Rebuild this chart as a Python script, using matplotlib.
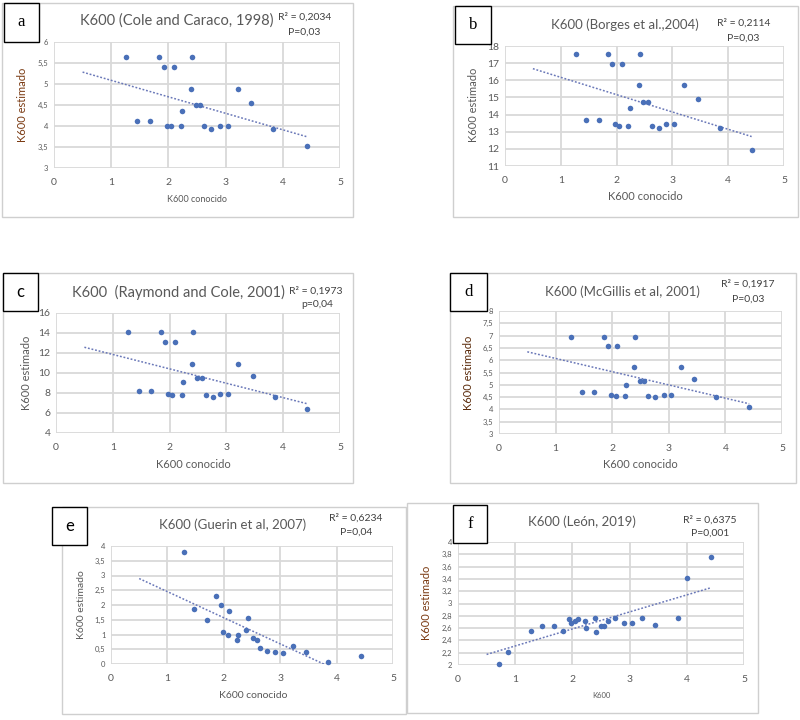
import numpy as np
import matplotlib
matplotlib.use("Agg")
import matplotlib.pyplot as plt
from matplotlib.patches import Rectangle
from matplotlib.ticker import FuncFormatter

plt.rcParams['font.family'] = ['Lato', 'DejaVu Sans']

W, H = 800, 720

# K600 conocido (x) vs K600 estimado (y)
a_x = [1.26, 1.45, 1.67, 1.84, 1.93, 1.97, 2.05, 2.09, 2.22, 2.24, 2.39, 2.41, 2.49, 2.55, 2.63, 2.75, 2.90, 3.04, 3.21, 3.45, 3.83, 4.42]
a_y = [5.64, 4.13, 4.13, 5.64, 5.41, 4.01, 4.00, 5.41, 4.00, 4.36, 4.87, 5.64, 4.49, 4.49, 3.99, 3.94, 4.01, 4.01, 4.87, 4.55, 3.94, 3.52]

b_x = [1.27, 1.46, 1.68, 1.85, 1.91, 1.97, 2.05, 2.09, 2.21, 2.24, 2.40, 2.42, 2.48, 2.57, 2.64, 2.76, 2.89, 3.03, 3.20, 3.46, 3.85, 4.42]
b_y = [17.51, 13.71, 13.71, 17.51, 16.95, 13.44, 13.32, 16.95, 13.32, 14.37, 15.70, 17.51, 14.72, 14.72, 13.32, 13.22, 13.44, 13.44, 15.70, 14.90, 13.22, 11.92]

c_x = [1.26, 1.46, 1.67, 1.85, 1.92, 1.97, 2.05, 2.09, 2.21, 2.24, 2.39, 2.42, 2.48, 2.57, 2.64, 2.76, 2.89, 3.03, 3.20, 3.46, 3.86, 4.42]
c_y = [14.1, 8.23, 8.23, 14.1, 13.13, 7.93, 7.83, 13.13, 7.83, 9.13, 10.87, 14.1, 9.5, 9.5, 7.83, 7.63, 7.93, 7.93, 10.87, 9.7, 7.63, 6.37]

d_x = [1.27, 1.46, 1.68, 1.85, 1.93, 1.97, 2.06, 2.09, 2.22, 2.24, 2.39, 2.41, 2.49, 2.57, 2.63, 2.75, 2.91, 3.04, 3.21, 3.45, 3.84, 4.42]
d_y = [6.96, 4.70, 4.70, 6.96, 6.57, 4.58, 4.54, 6.57, 4.54, 5.0, 5.71, 6.96, 5.17, 5.17, 4.54, 4.50, 4.58, 4.58, 5.71, 5.25, 4.50, 4.08]

e_x = [1.30, 1.48, 1.70, 1.86, 1.95, 1.98, 2.07, 2.10, 2.24, 2.26, 2.40, 2.43, 2.51, 2.58, 2.65, 2.76, 2.91, 3.05, 3.22, 3.46, 3.85, 4.43]
e_y = [3.79, 1.88, 1.49, 2.29, 2.0, 1.07, 0.97, 1.78, 0.81, 1.0, 1.16, 1.56, 0.87, 0.81, 0.55, 0.45, 0.42, 0.36, 0.62, 0.39, 0.06, 0.26]

f_x = [0.72, 0.88, 1.27, 1.46, 1.67, 1.84, 1.94, 1.97, 2.04, 2.09, 2.22, 2.24, 2.40, 2.41, 2.50, 2.56, 2.63, 2.75, 2.90, 3.05, 3.22, 3.45, 3.84, 4.00, 4.43]
f_y = [2.01, 2.21, 2.55, 2.63, 2.63, 2.55, 2.75, 2.68, 2.72, 2.75, 2.71, 2.60, 2.77, 2.54, 2.64, 2.64, 2.71, 2.76, 2.69, 2.69, 2.76, 2.65, 2.76, 3.41, 3.75]

letters = ['a', 'b', 'c', 'd', 'e', 'f']
titles = ['K600 (Cole and Caraco, 1998)', 'K600 (Borges et al.,2004)',
          'K600  (Raymond and Cole, 2001)', 'K600 (McGillis et al, 2001)',
          'K600 (Guerin et al, 2007)', 'K600 (León, 2019)']
r2_labels = ['R² = 0,2034', 'R² = 0,2114', 'R² = 0,1973', 'R² = 0,1917', 'R² = 0,6234', 'R² = 0,6375']
p_labels = ['P=0,03', 'P=0,03', 'p=0,04', 'P=0,03', 'P=0,04', 'P=0,001']
xlabels = ['K600 conocido'] * 5 + ['K600']
y_limits = [(3, 6), (11, 18), (4, 16), (3, 8), (0, 4), (2, 4)]
y_steps = [0.5, 1, 2, 0.5, 0.5, 0.2]
xs = [a_x, b_x, c_x, d_x, e_x, f_x]
ys = [a_y, b_y, c_y, d_y, e_y, f_y]

# layout in pixels: frame, letter box, plot area (left, top, right, bottom)
layout = [
    dict(frame=(2, 3, 353, 217), box=(4, 3, 39, 42), ax=(54, 42, 340, 168),
         title=(177, 21, 10.5), r2=(305, 17), p=(304, 32), xl=(197, 199, 6.5),
         yl=(23, 105, 8), ytick=5.5, xtick=7.5, ylc='#7a3a12', serif=True),
    dict(frame=(453, 6, 798, 217), box=(455, 6, 491, 44), ax=(505, 46, 784, 166),
         title=(625, 25, 9.5), r2=(744, 23), p=(743, 38), xl=(645, 197, 8),
         yl=(473, 105, 8), ytick=7.5, xtick=7.5, ylc='#595959', serif=True),
    dict(frame=(3, 273, 353, 483), box=(3, 273, 38, 311), ax=(56, 313, 340, 433),
         title=(178, 292, 10.5), r2=(316, 291), p=(317, 304), xl=(193, 464, 8),
         yl=(27, 373, 8), ytick=7.5, xtick=7.5, ylc='#595959', serif=False),
    dict(frame=(450, 273, 796, 483), box=(450, 273, 487, 311), ax=(499, 311, 782, 434),
         title=(622, 292, 9.5), r2=(748, 284), p=(748, 299), xl=(640, 464, 8),
         yl=(468, 373, 8), ytick=5.5, xtick=7.5, ylc='#5a2a0a', serif=True),
    dict(frame=(62, 507, 406, 714), box=(52, 507, 87, 545), ax=(111, 546, 393, 664),
         title=(233, 525, 9.5), r2=(356, 518), p=(356, 532), xl=(253, 695, 7.5),
         yl=(82, 605, 7.5), ytick=5.5, xtick=7.5, ylc='#595959', serif=False),
    dict(frame=(407, 503, 758, 713), box=(453, 505, 487, 543), ax=(458, 542, 744, 665),
         title=(582, 522, 9.5), r2=(710, 520), p=(710, 533), xl=(601, 696, 5.5),
         yl=(427, 603, 8), ytick=5.5, xtick=7.5, ylc='#7a3a12', serif=True),
]

grey_text = '#595959'
point_color = '#4a70b8'
trend_color = '#6a78b8'


def frac_rect(l, t, r, b):
    return (l / W, 1 - b / H, (r - l) / W, (b - t) / H)


def comma_fmt(v, pos):
    s = f'{v:.1f}'.rstrip('0').rstrip('.')
    return s.replace('.', ',')


fig = plt.figure(figsize=(W / 100, H / 100), dpi=100)

for i in range(6):
    lay = layout[i]
    x = np.array(xs[i])
    y = np.array(ys[i])

    fx, fy, fw, fh = frac_rect(*lay['frame'])
    fig.add_artist(Rectangle((fx, fy), fw, fh, transform=fig.transFigure,
                             fill=False, ec='#cfcfcf', lw=1.0, zorder=1))

    ax = fig.add_axes(frac_rect(*lay['ax']))
    lo, hi = y_limits[i]
    ax.set_xlim(0, 5)
    ax.set_ylim(lo, hi)
    ax.set_xticks(np.arange(0, 6, 1))
    ax.set_yticks(np.arange(lo, hi + y_steps[i] / 2, y_steps[i]))
    ax.yaxis.set_major_formatter(FuncFormatter(comma_fmt))
    ax.grid(True, color='#d9d9d9', lw=1.3)
    ax.set_axisbelow(True)
    for sp in ax.spines.values():
        sp.set_visible(False)
    ax.tick_params(length=0, colors=grey_text)
    ax.tick_params(axis='y', labelsize=lay['ytick'], pad=4)
    ax.tick_params(axis='x', labelsize=lay['xtick'], pad=7)

    slope, intercept = np.polyfit(x, y, 1)
    tx = np.array([0.5, x.max()])
    ax.plot(tx, slope * tx + intercept, color=trend_color, lw=1.1,
            linestyle=(0, (1.2, 1.2)))
    ax.scatter(x, y, s=16, color=point_color, zorder=3, clip_on=False,
               linewidths=0)

    bx, by, bw, bh = frac_rect(*lay['box'])
    fig.add_artist(Rectangle((bx, by), bw, bh, transform=fig.transFigure,
                             fc='white', ec='black', lw=1.0, zorder=5))
    fam = ['Liberation Serif'] if lay['serif'] else ['Lato', 'DejaVu Sans']
    fig.text(bx + bw / 2, by + bh / 2, letters[i], ha='center', va='center',
             fontsize=12, family=fam, zorder=6)

    tx_, ty_, tsz = lay['title']
    fig.text(tx_ / W, 1 - ty_ / H, titles[i], ha='center', va='center',
             fontsize=tsz, color=grey_text)
    fig.text(lay['r2'][0] / W, 1 - lay['r2'][1] / H, r2_labels[i],
             ha='center', va='center', fontsize=7.5, color='#404040')
    fig.text(lay['p'][0] / W, 1 - lay['p'][1] / H, p_labels[i],
             ha='center', va='center', fontsize=7.5, color='#404040')

    xlx, xly, xls = lay['xl']
    fig.text(xlx / W, 1 - xly / H, xlabels[i], ha='center', va='center',
             fontsize=xls, color=grey_text)
    ylx, yly, yls = lay['yl']
    fig.text(ylx / W, 1 - yly / H, 'K600 estimado', ha='center', va='center',
             rotation=90, fontsize=yls, color=lay['ylc'])

fig.savefig('out.png', dpi=100, facecolor='white')
